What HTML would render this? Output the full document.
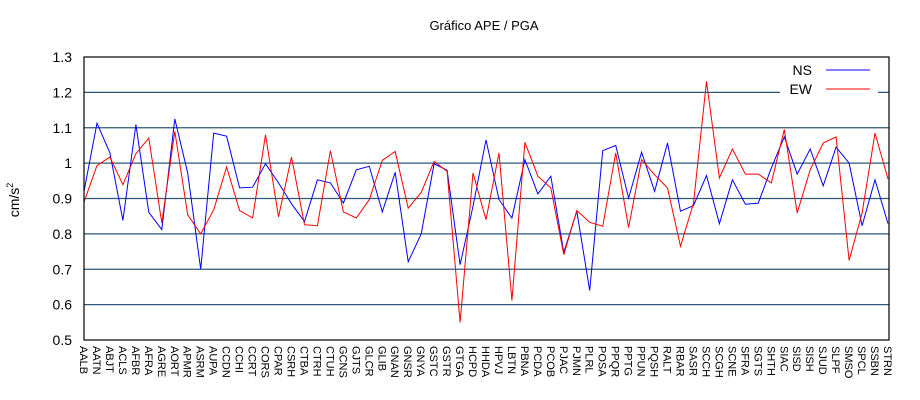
<!DOCTYPE html>
<html><head><meta charset="utf-8"><style>
body{margin:0;background:#fff;}
svg{display:block;font-family:"Liberation Sans",sans-serif;}
</style></head><body>
<svg id="chart" width="920" height="400" xmlns="http://www.w3.org/2000/svg">
<rect width="920" height="400" fill="#fff"/>
<text x="484" y="30" font-size="13" text-anchor="middle">Gráfico  APE / PGA</text>
<text transform="translate(19,200) rotate(-90)" font-size="14" text-anchor="middle">cm/s<tspan font-size="9" dy="-6">2</tspan></text>
<g id="grid"></g><g id="yticks"></g><g id="xticks"></g>
<rect x="780" y="60" width="98" height="38" fill="#fff"/>
<g id="series"></g>
<rect x="84" y="57" width="805" height="283" fill="none" stroke="#000" stroke-width="1.2"/>
<g><text x="812" y="75" font-size="14" text-anchor="end">NS</text><line x1="826" y1="70" x2="870" y2="70" stroke="#00f" stroke-width="1"/></g>
<g><text x="812" y="94" font-size="14" text-anchor="end">EW</text><line x1="826" y1="89" x2="870" y2="89" stroke="#f00" stroke-width="1"/></g>
</svg>
<script>
const categories=["AALB","AATN","ABJT","ACLS","AFBR","AFRA","AGRE","AORT","APMR","ASRM","AUPA","CCDN","CCHI","CCRT","CORS","CPAR","CSRH","CTBA","CTRH","CTUH","GCNS","GJTS","GLCR","GLIB","GNAN","GNSR","GNYA","GSTC","GSTR","GTGA","HCPD","HHDA","HPVJ","LBTN","PBNA","PCDA","PCOB","PJAC","PJMN","PLRL","POSA","PPQR","PPTG","PPUN","PQSH","RALT","RBAR","SASR","SCCH","SCGH","SCNE","SFRA","SGTS","SHTH","SIAC","SISD","SISH","SJUD","SLPF","SMSO","SPCL","SSBN","STRN"];
const nsValues=[0.92,1.113,1.029,0.838,1.109,0.861,0.812,1.125,0.972,0.70,1.085,1.076,0.930,0.932,0.998,0.944,0.885,0.835,0.953,0.944,0.887,0.981,0.991,0.862,0.974,0.721,0.80,0.998,0.98,0.713,0.878,1.066,0.897,0.845,1.01,0.913,0.963,0.748,0.864,0.64,1.035,1.05,0.901,1.031,0.92,1.057,0.864,0.88,0.965,0.829,0.953,0.884,0.887,0.986,1.074,0.969,1.04,0.936,1.045,1.0,0.823,0.953,0.829];
const ewValues=[0.89,0.993,1.017,0.939,1.027,1.071,0.831,1.09,0.854,0.80,0.868,0.989,0.866,0.845,1.08,0.848,1.017,0.826,0.823,1.035,0.862,0.845,0.897,1.008,1.033,0.873,0.917,1.005,0.977,0.55,0.972,0.84,1.029,0.612,1.059,0.963,0.930,0.741,0.866,0.833,0.821,1.029,0.818,1.010,0.967,0.930,0.765,0.887,1.231,0.958,1.04,0.969,0.969,0.944,1.095,0.859,0.981,1.057,1.074,0.725,0.859,1.085,0.955];
const yTicks=["0.5","0.6","0.7","0.8","0.9","1","1.1","1.2","1.3"];
const NS="http://www.w3.org/2000/svg";
const X0=84,X1=888,Y0=340,Y1=57,YMIN=0.5,YMAX=1.3;
function xPos(i){return X0+(X1-X0)*i/(categories.length-1);}
function yPos(v){return Y0-(v-YMIN)/(YMAX-YMIN)*(Y0-Y1);}
const grid=document.getElementById('grid'),yt=document.getElementById('yticks'),xt=document.getElementById('xticks'),ser=document.getElementById('series');
yTicks.forEach(t=>{const v=parseFloat(t),y=yPos(v);
 if(v>YMIN&&v<YMAX){const l=document.createElementNS(NS,'line');
 
 
 l.setAttribute('x1',X0);l.setAttribute('x2',889);l.setAttribute('y1',y);l.setAttribute('y2',y);
 l.setAttribute('stroke','#2d5878');l.setAttribute('stroke-width','1.2');grid.appendChild(l);}
 const tx=document.createElementNS(NS,'text');
 
 
 tx.setAttribute('x',72);tx.setAttribute('y',y+5);tx.setAttribute('text-anchor','end');tx.setAttribute('font-size','14');
 tx.textContent=t;yt.appendChild(tx);});
categories.forEach((c,i)=>{const tx=document.createElementNS(NS,'text');
 
 
 const x=xPos(i)-4;tx.setAttribute('transform','translate('+x+',346) rotate(90)');
 tx.setAttribute('font-size','11');tx.textContent=c;xt.appendChild(tx);});
function line(vals,color,name){const p=document.createElementNS(NS,'polyline');
 
 
 p.setAttribute('points',vals.map((v,i)=>xPos(i).toFixed(1)+','+yPos(v).toFixed(1)).join(' '));
 p.setAttribute('fill','none');p.setAttribute('stroke',color);p.setAttribute('stroke-width','1');ser.appendChild(p);}
line(nsValues,'#00f','series-ns');
line(ewValues,'#f00','series-ew');
</script>
</body></html>
